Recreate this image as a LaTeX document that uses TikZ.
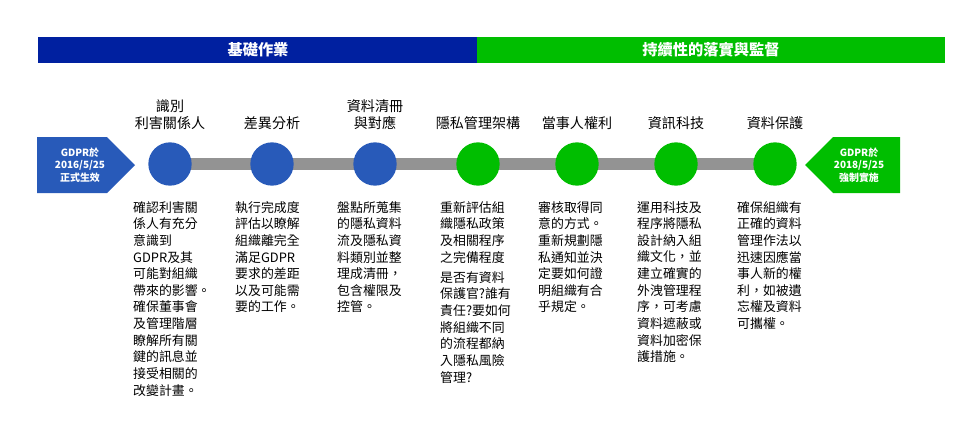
\documentclass[tikz,border=0pt]{standalone}
\usepackage{fontspec}
\setmainfont{Noto Sans CJK TC}
\usetikzlibrary{positioning}
\definecolor{gblue}{RGB}{0,32,160}
\definecolor{gdblue}{RGB}{40,90,185}
\definecolor{ggreen}{RGB}{0,190,0}
\tikzset{
  stepdot/.style={circle,minimum size=1.3cm,inner sep=0pt},
  steptitle/.style={font=\fontsize{12}{15}\selectfont,align=center,anchor=south},
  desc/.style={font=\fontsize{11}{14.2}\selectfont,align=left,anchor=north west,inner sep=0pt},
  tag/.style={font=\bfseries\fontsize{8.5}{10.5}\selectfont,text=white,align=center}
}
\begin{document}
\begin{tikzpicture}[x=0.03cm,y=-0.03cm]
        \useasboundingbox (0,0) rectangle (960,420);
        % header bars
        \fill[gblue] (38,37) rectangle (477,63);
        \fill[ggreen] (477,37) rectangle (945,63);
        \node[text=white,font=\bfseries\fontsize{13}{15}\selectfont] (hdrA) at (258,50) {基礎作業};
        \node[text=white,font=\bfseries\fontsize{13}{15}\selectfont] (hdrB) at (711,50) {持續性的落實與監督};
        % timeline
        \draw[line width=0.36cm,gray!85] (170,164) -- (790,164);
        \fill[gdblue] (37,137) -- (107,137) -- (135,165) -- (107,193) -- (37,193) -- cycle;
        \node[tag] (start) at (80,165) {GDPR於\\2016/5/25\\正式生效};
        \fill[ggreen] (900,137) -- (833,137) -- (805,165) -- (833,193) -- (900,193) -- cycle;
        \node[tag] (end) at (859,165) {GDPR於\\2018/5/25\\強制實施};
        % steps
        \foreach \x/\c/\t [count=\i] in {170/gdblue/{識別\\利害關係人},272/gdblue/差異分析,375/gdblue/{資料清冊\\與對應},
            478/ggreen/隱私管理架構,577/ggreen/當事人權利,676/ggreen/資訊科技,775/ggreen/資料保護}{
          \node[stepdot,fill=\c] (s\i) at (\x,164) {};
          \node[steptitle] (t\i) at (\x,134) {\t};
        }
        % descriptions
        \node[desc] (d1) at (133,201) {確認利害關\\係人有充分\\意識到\\GDPR及其\\可能對組織\\帶來的影響。\\確保董事會\\及管理階層\\瞭解所有關\\鍵的訊息並\\接受相關的\\改變計畫。};
        \node[desc] (d2) at (235,201) {執行完成度\\評估以瞭解\\組織離完全\\滿足GDPR\\要求的差距\\以及可能需\\要的工作。};
        \node[desc] (d3) at (337,201) {盤點所蒐集\\的隱私資料\\流及隱私資\\料類別並整\\理成清冊，\\包含權限及\\控管。};
        \node[desc] (d4) at (440,201) {重新評估組\\織隱私政策\\及相關程序\\之完備程度\\[3pt]是否有資料\\保護官?誰有\\責任?要如何\\將組織不同\\的流程都納\\入隱私風險\\管理?};
        \node[desc] (d5) at (538,201) {審核取得同\\意的方式。\\重新規劃隱\\私通知並決\\定要如何證\\明組織有合\\乎規定。};
        \node[desc] (d6) at (637,201) {運用科技及\\程序將隱私\\設計納入組\\織文化，並\\建立確實的\\外洩管理程\\序，可考慮\\資料遮蔽或\\資料加密保\\護措施。};
        \node[desc] (d7) at (737,201) {確保組織有\\正確的資料\\管理作法以\\迅速因應當\\事人新的權\\利，如被遺\\忘權及資料\\可攜權。};
\end{tikzpicture}
\end{document}
